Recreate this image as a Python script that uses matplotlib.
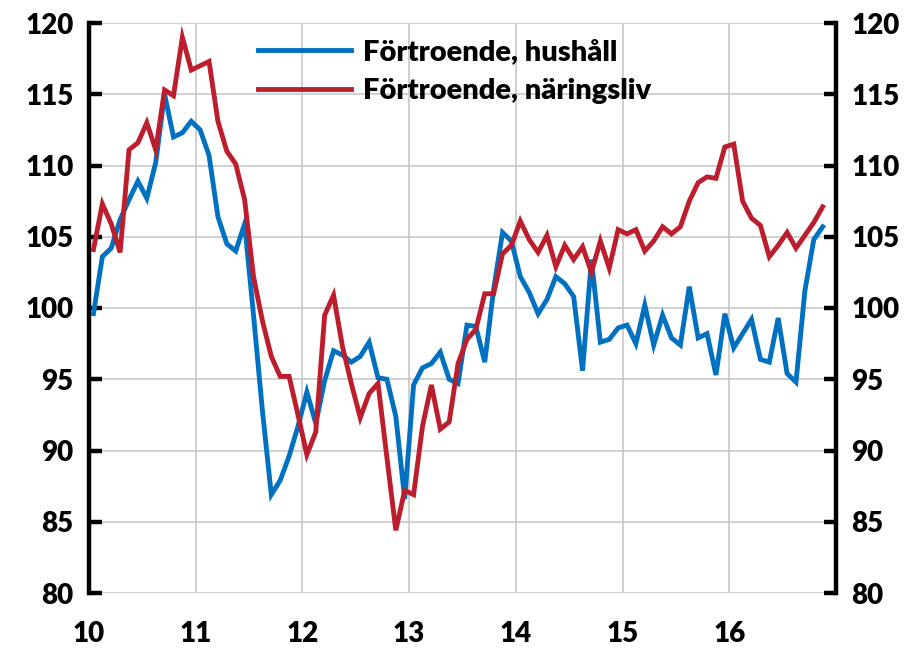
import numpy as np
import matplotlib
matplotlib.use("Agg")
import matplotlib.pyplot as plt

# Monthly data Jan 2010 - Nov 2016
hushall = [99.6, 103.6, 104.2, 106.2, 107.6, 108.9, 107.7, 110.2, 115.0, 112.0,
           112.3, 113.1, 112.5, 110.7, 106.4, 104.5, 104.0, 105.9, 99.5, 92.8,
           86.9, 87.9, 89.6, 91.7, 94.1, 91.9, 94.9, 97.0, 96.7, 96.2,
           96.6, 97.6, 95.1, 95.0, 92.4, 86.6, 94.6, 95.8, 96.1, 96.9,
           95.0, 94.7, 98.8, 98.7, 96.2, 101.3, 105.3, 104.7, 102.2, 101.1,
           99.6, 100.6, 102.2, 101.7, 100.8, 95.6, 103.4, 97.6, 97.8, 98.6,
           98.8, 97.5, 100.2, 97.4, 99.5, 97.9, 97.4, 101.5, 97.9, 98.2,
           95.3, 99.6, 97.2, 98.2, 99.2, 96.4, 96.2, 99.3, 95.4, 94.8,
           101.2, 104.8, 105.7]
naringsliv = [104.1, 107.3, 105.9, 103.9, 111.1, 111.6, 113.0, 111.1, 115.3, 114.9,
              119.0, 116.7, 117.0, 117.3, 113.1, 111.0, 110.1, 107.6, 102.2, 99.1,
              96.6, 95.2, 95.2, 92.5, 89.7, 91.3, 99.5, 100.9, 97.3, 94.7,
              92.3, 94.0, 94.7, 89.5, 84.4, 87.2, 86.9, 91.7, 94.6, 91.5,
              92.0, 96.1, 97.8, 98.5, 101.0, 101.0, 103.8, 104.4, 106.1, 104.8,
              103.9, 105.1, 102.9, 104.4, 103.4, 104.3, 102.5, 104.7, 102.8, 105.5,
              105.2, 105.5, 104.0, 104.7, 105.7, 105.2, 105.7, 107.5, 108.8, 109.2,
              109.1, 111.3, 111.5, 107.5, 106.3, 105.8, 103.6, 104.4, 105.3, 104.2,
              105.1, 106.0, 107.1]

year_ticks = [10, 11, 12, 13, 14, 15, 16]
y_ticks = [80, 85, 90, 95, 100, 105, 110, 115, 120]
labels = ["Förtroende, hushåll", "Förtroende, näringsliv"]

x = 10 + (np.arange(len(hushall)) + 0.5) / 12.0

plt.rcParams['font.family'] = ['Lato', 'DejaVu Sans']
W = 'heavy'

fig = plt.figure(figsize=(9.12, 6.48), dpi=100)
ax = fig.add_axes([89/912, 55/648, (836-89)/912, (593-23)/648])

ax.plot(x, hushall, color='#0070C0', lw=3.5, label=labels[0], zorder=3,
        solid_joinstyle='miter')
ax.plot(x, naringsliv, color='#BC1E2D', lw=3.5, label=labels[1], zorder=3,
        solid_joinstyle='miter')

ax.set_xlim(10, 17)
ax.set_ylim(80, 120)
ax.set_xticks(year_ticks)
ax.set_xticklabels([str(t) for t in year_ticks])
ax.set_yticks(y_ticks)

ax.grid(True, color='#C8C8C8', lw=1.2, zorder=0)
ax.set_axisbelow(True)

for s in ['top', 'bottom']:
    ax.spines[s].set_visible(False)
for s in ['left', 'right']:
    ax.spines[s].set_linewidth(3.2)
    ax.spines[s].set_color('black')

ax.tick_params(axis='y', which='both', direction='in', left=True, right=True,
               labelleft=True, labelright=True, length=9, width=3.2,
               pad=11, labelsize=20)
ax.tick_params(axis='x', length=0, pad=20, labelsize=20)
for lab in ax.get_xticklabels() + ax.get_yticklabels():
    lab.set_fontweight(W)

leg = ax.legend(loc='upper left', bbox_to_anchor=(258/912, 1 - 39/648),
                bbox_transform=fig.transFigure, frameon=False,
                handlelength=3.2, handletextpad=0.4, labelspacing=0.45,
                prop={'size': 21, 'weight': W}, borderaxespad=0,
                borderpad=0)

fig.savefig('out.png', dpi=100)
